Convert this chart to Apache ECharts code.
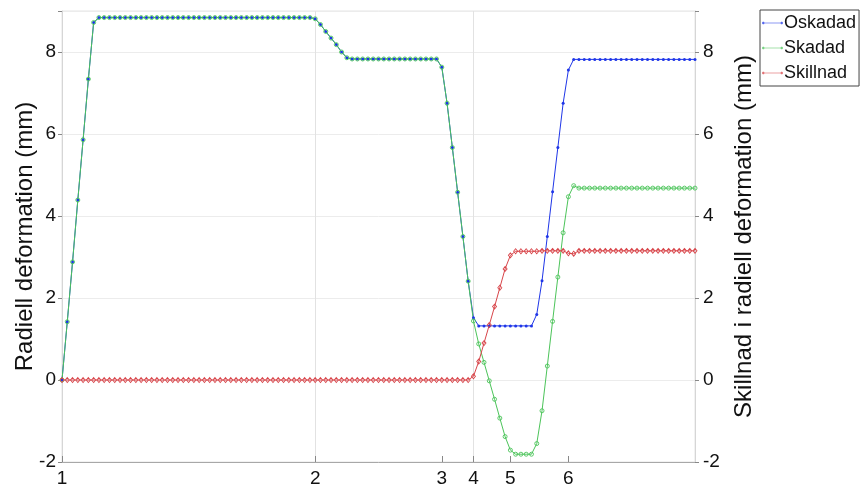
<!DOCTYPE html>
<html>
<head>
<meta charset="utf-8">
<script src="https://cdn.jsdelivr.net/npm/echarts@6/dist/echarts.min.js"></script>
<style>html,body{margin:0;padding:0;background:#fff;}#c{width:862px;height:490px;}</style>
</head>
<body>
<div id="c"></div>
<script>
// Series values (one per load step, step index 0..120)
const oskadad = [
  0, 1.42, 2.88, 4.39, 5.86, 7.34, 8.72,
  8.84, 8.84, 8.84, 8.84, 8.84, 8.84, 8.84, 8.84, 8.84, 8.84,
  8.84, 8.84, 8.84, 8.84, 8.84, 8.84, 8.84, 8.84, 8.84, 8.84,
  8.84, 8.84, 8.84, 8.84, 8.84, 8.84, 8.84, 8.84, 8.84, 8.84,
  8.84, 8.84, 8.84, 8.84, 8.84, 8.84, 8.84, 8.84, 8.84, 8.84,
  8.84,
  8.81, 8.67, 8.50, 8.34, 8.18, 8.00, 7.86,
  7.83, 7.83, 7.83, 7.83, 7.83, 7.83, 7.83, 7.83, 7.83, 7.83,
  7.83, 7.83, 7.83, 7.83, 7.83, 7.83, 7.83,
  7.63, 6.75, 5.67, 4.58, 3.50, 2.41, 1.52,
  1.32, 1.32, 1.32, 1.32, 1.32, 1.32, 1.32, 1.32, 1.32, 1.32, 1.32,
  1.60, 2.42, 3.50, 4.59, 5.67, 6.75, 7.56,
  7.82, 7.82, 7.82, 7.82, 7.82, 7.82, 7.82, 7.82, 7.82, 7.82,
  7.82, 7.82, 7.82, 7.82, 7.82, 7.82, 7.82, 7.82, 7.82, 7.82,
  7.82, 7.82, 7.82, 7.82
];
const skadad = [
  0, 1.42, 2.88, 4.39, 5.86, 7.34, 8.72,
  8.84, 8.84, 8.84, 8.84, 8.84, 8.84, 8.84, 8.84, 8.84, 8.84,
  8.84, 8.84, 8.84, 8.84, 8.84, 8.84, 8.84, 8.84, 8.84, 8.84,
  8.84, 8.84, 8.84, 8.84, 8.84, 8.84, 8.84, 8.84, 8.84, 8.84,
  8.84, 8.84, 8.84, 8.84, 8.84, 8.84, 8.84, 8.84, 8.84, 8.84,
  8.84,
  8.81, 8.67, 8.50, 8.34, 8.18, 8.00, 7.86,
  7.83, 7.83, 7.83, 7.83, 7.83, 7.83, 7.83, 7.83, 7.83, 7.83,
  7.83, 7.83, 7.83, 7.83, 7.83, 7.83, 7.83,
  7.63, 6.75, 5.67, 4.58, 3.50, 2.41,
  1.44, 0.88, 0.43, -0.02, -0.47, -0.93, -1.38, -1.71,
  -1.81, -1.81, -1.81, -1.81,
  -1.55, -0.75, 0.34, 1.43, 2.51, 3.59, 4.47, 4.74,
  4.68, 4.68, 4.68, 4.68, 4.68, 4.68, 4.68, 4.68, 4.68, 4.68,
  4.68, 4.68, 4.68, 4.68, 4.68, 4.68, 4.68, 4.68, 4.68, 4.68,
  4.68, 4.68, 4.68
];
const skillnad = [
  0, 0, 0, 0, 0, 0, 0, 0, 0, 0,
  0, 0, 0, 0, 0, 0, 0, 0, 0, 0,
  0, 0, 0, 0, 0, 0, 0, 0, 0, 0,
  0, 0, 0, 0, 0, 0, 0, 0, 0, 0,
  0, 0, 0, 0, 0, 0, 0, 0, 0, 0,
  0, 0, 0, 0, 0, 0, 0, 0, 0, 0,
  0, 0, 0, 0, 0, 0, 0, 0, 0, 0,
  0, 0, 0, 0, 0, 0, 0, 0,
  0.09, 0.45, 0.90, 1.34, 1.79, 2.25, 2.71, 3.04,
  3.14, 3.14, 3.14, 3.14, 3.14, 3.15, 3.15, 3.15, 3.15, 3.15,
  3.09, 3.08,
  3.15, 3.15, 3.15, 3.15, 3.15, 3.15, 3.15, 3.15, 3.15, 3.15,
  3.15, 3.15, 3.15, 3.15, 3.15, 3.15, 3.15, 3.15, 3.15, 3.15,
  3.15, 3.15, 3.15
];
// x-axis: step indices, labelled stage ticks
const steps = oskadad.map((_, i) => String(i));
const tickIndex = [0, 48, 72, 78, 85, 96];
const tickLabels = ['1', '2', '3', '4', '5', '6'];
const gridIndex = [48, 78];
const yTicks = [-2, 0, 2, 4, 6, 8];

const names = ['Oskadad', 'Skadad', 'Skillnad'];
const colors = ['#1f36e8', '#4cc45a', '#d8454a'];

const FONT = 'Liberation Sans, Arial, sans-serif';
const legendIcon = 'path://M0,2.2 L21,2.2 L21,2.8 L0,2.8 Z M0,2.5 A1.3,1.3 0 1,0 2.6,2.5 A1.3,1.3 0 1,0 0,2.5 Z M18.4,2.5 A1.3,1.3 0 1,0 21,2.5 A1.3,1.3 0 1,0 18.4,2.5 Z';

const chart = echarts.init(document.getElementById('c'), null, {renderer: 'canvas'});
const yAxisBase = {
  type: 'value', min: -2, max: 9, interval: 2,
  axisLine: {show: true, lineStyle: {color: '#d6d6d6'}},
  axisTick: {show: true, length: 4, lineStyle: {color: '#888'}},
  splitLine: {show: true, lineStyle: {color: '#ececec'}},
  axisLabel: {color: '#111', fontSize: 19, fontFamily: FONT,
    formatter: v => (yTicks.indexOf(v) >= 0 ? String(v) : '')},
  nameLocation: 'middle',
  nameMoveOverlap: false,
  nameTextStyle: {color: '#111', fontSize: 24, fontFamily: FONT}
};
chart.setOption({
  animation: false,
  backgroundColor: '#fff',
  grid: {left: 62, right: 167, top: 11, bottom: 28, show: true, borderColor: '#e4e4e4', borderWidth: 1},
  legend: {
    orient: 'vertical', left: 760, top: 10,
    data: names.map((n, i) => ({name: n, icon: legendIcon, itemStyle: {color: colors[i], borderWidth: 0}})),
    itemWidth: 21, itemHeight: 5, itemGap: 5,
    padding: [3, 3, 3, 2],
    borderColor: '#444', borderWidth: 1, backgroundColor: '#fff',
    textStyle: {color: '#111', fontSize: 18, fontFamily: FONT, padding: [0, 0, 0, -4], lineHeight: 20}
  },
  xAxis: {
    type: 'category', data: steps, boundaryGap: false,
    axisLine: {onZero: false, lineStyle: {color: '#a8a8a8'}},
    axisTick: {show: true, inside: true, length: 6, lineStyle: {color: '#888'},
      interval: idx => tickIndex.indexOf(idx) >= 0},
    axisLabel: {color: '#111', fontSize: 19, fontFamily: FONT, margin: 7,
      interval: idx => tickIndex.indexOf(idx) >= 0,
      formatter: (v, idx) => { const k = tickIndex.indexOf(idx); return k >= 0 ? tickLabels[k] : ''; }},
    splitLine: {show: true, lineStyle: {color: '#e2e2e2'},
      interval: idx => gridIndex.indexOf(idx) >= 0}
  },
  yAxis: [
    Object.assign({}, yAxisBase, {position: 'left', name: 'Radiell deformation (mm)', nameGap: 25,
      axisLabel: Object.assign({}, yAxisBase.axisLabel, {margin: 6})}),
    Object.assign({}, yAxisBase, {position: 'right', name: 'Skillnad i radiell deformation (mm)', nameGap: 37,
      splitLine: {show: false},
      axisLabel: Object.assign({}, yAxisBase.axisLabel, {margin: 8})})
  ],
  series: [
    {name: names[0], type: 'line', data: oskadad, yAxisIndex: 0,
      symbol: 'circle', symbolSize: 3, showAllSymbol: true,
      lineStyle: {width: 1, color: colors[0]}, itemStyle: {color: colors[0]}},
    {name: names[1], type: 'line', data: skadad, yAxisIndex: 0,
      symbol: 'circle', symbolSize: 4, showAllSymbol: true,
      lineStyle: {width: 1, color: colors[1]},
      itemStyle: {color: 'rgba(0,0,0,0)', borderColor: colors[1], borderWidth: 0.9}},
    {name: names[2], type: 'line', data: skillnad, yAxisIndex: 1,
      symbol: 'diamond', symbolSize: [4, 5], showAllSymbol: true,
      lineStyle: {width: 1, color: colors[2]},
      itemStyle: {color: 'rgba(0,0,0,0)', borderColor: colors[2], borderWidth: 0.9}}
  ]
});
</script>
</body>
</html>
